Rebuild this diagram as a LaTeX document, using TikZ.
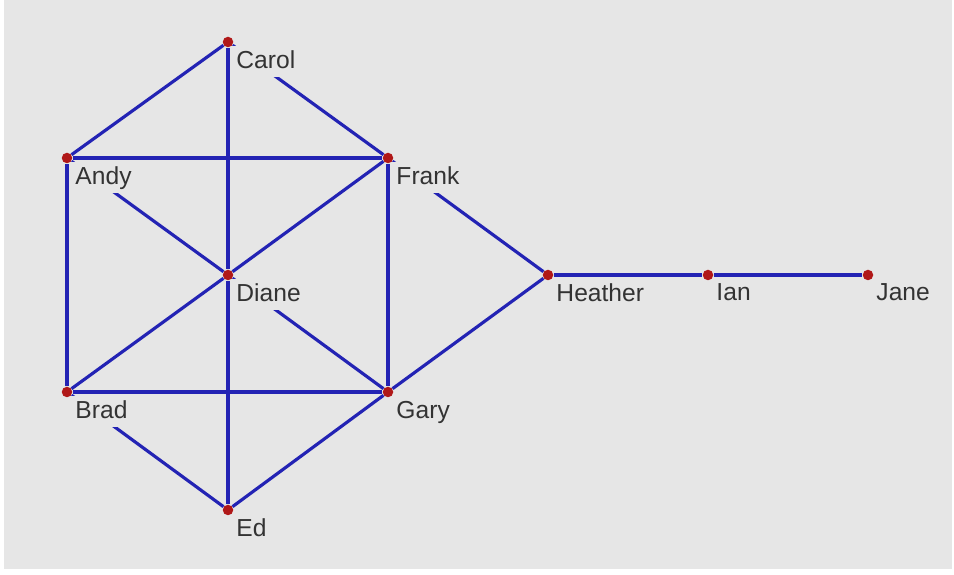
\documentclass[tikz,border=0pt]{standalone}
\usepackage{fontspec}
\setmainfont{Liberation Sans}
\usepackage{tikz}
\usetikzlibrary{positioning}

\definecolor{bggray}{HTML}{E6E6E6}
\definecolor{edgeblue}{HTML}{2323B4}
\definecolor{dotred}{HTML}{B01818}
\definecolor{txtgray}{HTML}{333333}

\begin{document}
\begin{tikzpicture}[
    person/.style={circle, fill=dotred, inner sep=0pt, minimum size=0.21cm},
    plabel/.style={fill=bggray, inner sep=3pt, text depth=1.5pt, text=txtgray, font=\fontsize{14}{16}\selectfont},
    tie/.style={draw=edgeblue, line width=1.8pt}
]
    % background
    \fill[white] (0,0) rectangle (19.08,11.5);
    \fill[bggray] (0.08,0.12) rectangle (19.04,11.5);
    \useasboundingbox (0,0) rectangle (19.08,11.5);

    % the kite
    \node[person] (carol) at (4.56, 10.66) {};
    \node[person] (andy) at (1.34, 8.34) {};
    \node[person] (frank) at (7.76, 8.34) {};
    \node[person] (diane) at (4.56, 6.00) {};
    \node[person] (brad) at (1.34, 3.66) {};
    \node[person] (gary) at (7.76, 3.66) {};
    \node[person] (ed) at (4.56, 1.30) {};

    % the tail
    \node[person] (heather) at (10.96, 6.00) {};
    \node[person] (ian) at (14.16, 6.00) {};
    \node[person] (jane) at (17.36, 6.00) {};

    \draw[tie] (andy) -- (carol) -- (frank);
    \draw[tie] (carol) -- (diane) -- (ed);
    \draw[tie] (andy) -- (frank) -- (gary) -- (brad) -- (andy);
    \draw[tie] (andy) -- (diane) -- (gary);
    \draw[tie] (frank) -- (diane) -- (brad);
    \draw[tie] (brad) -- (ed) -- (gary);
    \draw[tie] (frank) -- (heather) -- (gary);
    \draw[tie] (heather) -- (ian) -- (jane);

    % names
    \node[plabel, below right=-0.012cm and -0.022cm of carol] (carol-name) {Carol};
    \node[plabel, below right=-0.012cm and -0.022cm of andy] (andy-name) {Andy};
    \node[plabel, below right=-0.012cm and -0.022cm of frank] (frank-name) {Frank};
    \node[plabel, below right=-0.012cm and -0.022cm of diane] (diane-name) {Diane};
    \node[plabel, below right=-0.012cm and -0.022cm of brad] (brad-name) {Brad};
    \node[plabel, below right=-0.012cm and -0.022cm of gary] (gary-name) {Gary};
    \node[plabel, below right=-0.012cm and -0.022cm of ed] (ed-name) {Ed};
    \node[plabel, below right=-0.012cm and -0.022cm of heather] (heather-name) {Heather};
    \node[plabel, below right=-0.012cm and -0.022cm of ian] (ian-name) {Ian};
    \node[plabel, below right=-0.012cm and -0.022cm of jane] (jane-name) {Jane};
\end{tikzpicture}
\end{document}
